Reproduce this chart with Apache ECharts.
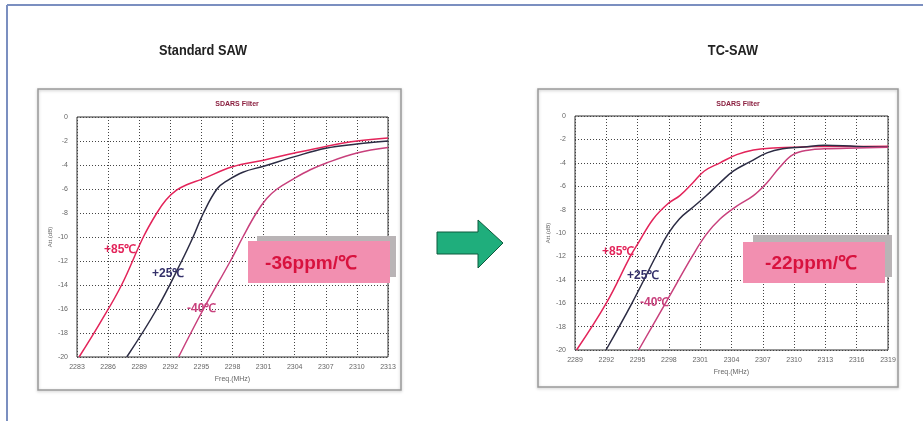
<!DOCTYPE html>
<html><head><meta charset="utf-8">
<script src="https://cdn.jsdelivr.net/npm/echarts@6/dist/echarts.min.js"></script>
<style>html,body{margin:0;padding:0;background:#fff}#c{width:923px;height:421px}</style>
</head><body><div id="c"></div>
<script>
// ---- data ----
const xTicksLeft = [2283, 2286, 2289, 2292, 2295, 2298, 2301, 2304, 2307, 2310, 2313];
const xTicksRight = [2289, 2292, 2295, 2298, 2301, 2304, 2307, 2310, 2313, 2316, 2319];
const yTicks = [0, -2, -4, -6, -8, -10, -12, -14, -16, -18, -20];

const stdHot = [[2283.2,-20],[2285.2,-17.2],[2287.3,-14],[2289.4,-10],[2290.7,-8],[2291.6,-6.9],[2292.6,-6.1],[2293.7,-5.6],[2295,-5.2],[2298,-4.15],[2301,-3.6],[2304,-3.0],[2307,-2.45],[2310,-2.0],[2313,-1.75]];
const stdRoom = [[2287.8,-20],[2290.7,-16],[2293.1,-12],[2294.2,-10],[2295.2,-8],[2296.5,-6],[2297.5,-5.3],[2299,-4.6],[2301,-4.1],[2304,-3.3],[2307,-2.6],[2310,-2.25],[2313,-2.0]];
const stdCold = [[2292.8,-20],[2295.2,-16],[2297.8,-12],[2299,-10],[2300.3,-8],[2301.3,-6.8],[2302.3,-6],[2304,-5.1],[2305.5,-4.4],[2307,-3.85],[2310,-3.0],[2313,-2.55]];

const tcHot = [[2289.15,-20],[2292,-16],[2294.3,-12],[2295.1,-10.8],[2296.5,-8.8],[2297.9,-7.5],[2299.05,-6.8],[2300.3,-5.7],[2301.4,-4.7],[2302.9,-4.0],[2304.5,-3.3],[2306.1,-2.9],[2308,-2.73],[2309.9,-2.68],[2312,-2.6],[2315,-2.6],[2319,-2.58]];
const tcRoom = [[2291.97,-20],[2294.4,-16.1],[2296.8,-11.9],[2297.9,-10.1],[2299,-8.8],[2300.3,-7.8],[2301.6,-6.8],[2302.9,-5.7],[2304.2,-4.7],[2305.8,-3.9],[2307.4,-3.15],[2308.9,-2.8],[2310.9,-2.65],[2312.9,-2.5],[2316,-2.6],[2319,-2.65]];
const tcCold = [[2295.1,-20],[2297.8,-15.8],[2300.3,-11.9],[2301.6,-10.1],[2302.9,-8.8],[2304.5,-7.7],[2306.1,-6.8],[2307.4,-5.7],[2308.6,-4.4],[2309.9,-3.3],[2311.5,-2.9],[2312.9,-2.8],[2316,-2.73],[2319,-2.68]];

const mainTitles = ['Standard SAW', 'TC-SAW'];
const plotTitle = 'SDARS Filter';
const tempLabels = ['+85\u2103', '+25\u2103', '-40\u2103'];
const coeffLabels = ['-36ppm/\u2103', '-22ppm/\u2103'];
const xName = 'Freq.(MHz)';
const yName = 'Att.(dB)';

// ---- chart ----
const C_HOT = '#e3245a', C_ROOM = '#2c2c44', C_COLD = '#c8407c';
const F = 'Liberation Sans, Arial, sans-serif';
const chart = echarts.init(document.getElementById('c'), null, {renderer: 'canvas'});

function xAxis(gi, ticks) {
  return {
    type: 'value', gridIndex: gi, min: ticks[0], max: ticks[ticks.length - 1], interval: ticks[1] - ticks[0],
    name: xName, nameLocation: 'middle', nameGap: 14,
    nameTextStyle: {fontSize: 7, color: '#666', fontFamily: F},
    axisLine: {show: false}, axisTick: {show: false},
    axisLabel: {fontSize: 7, color: '#666', margin: 7, fontFamily: F, formatter: v => String(v)},
    splitLine: {show: true, lineStyle: {type: [1, 2], color: '#444', width: 1}}
  };
}
function yAxis(gi) {
  return {
    type: 'value', gridIndex: gi, min: yTicks[yTicks.length - 1], max: yTicks[0], interval: yTicks[0] - yTicks[1],
    name: yName, nameLocation: 'middle', nameGap: 24, nameRotate: 90,
    nameTextStyle: {fontSize: 6, color: '#666', fontFamily: F},
    axisLine: {show: false}, axisTick: {show: false},
    axisLabel: {fontSize: 7, color: '#666', margin: 9, fontFamily: F},
    splitLine: {show: true, lineStyle: {type: [1, 2], color: '#444', width: 1}}
  };
}
function line(name, data, color, gi) {
  return {name, type: 'line', xAxisIndex: gi, yAxisIndex: gi, data, smooth: 0.4, symbol: 'none',
    lineStyle: {color, width: 1.5}, itemStyle: {color}, z: 3};
}

function tempText(x, y, t, color) {
  return {type: 'text', x, y, z: 10, style: {text: t, fill: color, font: 'bold 12px ' + F, textVerticalAlign: 'middle'}};
}
function mainTitle(x, t) {
  return {type: 'text', x, y: 51, scaleX: 0.85, z: 10, style: {text: t, fill: '#222', font: 'bold 15px ' + F, textAlign: 'center', textVerticalAlign: 'middle'}};
}

const option = {
  backgroundColor: '#fff',
  animation: false,
  title: [
    {text: plotTitle, left: 232, top: 96, textAlign: 'center', textStyle: {fontSize: 7, fontWeight: 'bold', color: '#8b2040', fontFamily: F}},
    {text: plotTitle, left: 733, top: 96, textAlign: 'center', textStyle: {fontSize: 7, fontWeight: 'bold', color: '#8b2040', fontFamily: F}}
  ],
  grid: [
    {left: 77, top: 117, width: 311, height: 240, show: true, borderColor: '#333', borderWidth: 1, backgroundColor: 'transparent'},
    {left: 575, top: 116, width: 313, height: 234, show: true, borderColor: '#333', borderWidth: 1, backgroundColor: 'transparent'}
  ],
  xAxis: [xAxis(0, xTicksLeft), xAxis(1, xTicksRight)],
  yAxis: [yAxis(0), yAxis(1)],
  series: [
    line('+85 std', stdHot, C_HOT, 0),
    line('+25 std', stdRoom, C_ROOM, 0),
    line('-40 std', stdCold, C_COLD, 0),
    line('+85 tc', tcHot, C_HOT, 1),
    line('+25 tc', tcRoom, C_ROOM, 1),
    line('-40 tc', tcCold, C_COLD, 1)
  ],
  graphic: [
    // outer frame lines
    {type: 'line', shape: {x1: 7, y1: 5, x2: 923, y2: 5}, style: {stroke: '#7b8fc0', lineWidth: 2}, z: 0},
    {type: 'line', shape: {x1: 7, y1: 5, x2: 7, y2: 421}, style: {stroke: '#7b8fc0', lineWidth: 2}, z: 0},
    mainTitle(203, mainTitles[0]),
    mainTitle(733, mainTitles[1]),
    // panel boxes
    {type: 'rect', shape: {x: 38, y: 89, width: 363, height: 301}, style: {fill: 'none', stroke: '#9a9a9a', lineWidth: 1.5, shadowBlur: 3, shadowColor: 'rgba(0,0,0,0.25)', shadowOffsetY: 1}, z: 0},
    {type: 'rect', shape: {x: 538, y: 89, width: 360, height: 298}, style: {fill: 'none', stroke: '#9a9a9a', lineWidth: 1.5, shadowBlur: 3, shadowColor: 'rgba(0,0,0,0.25)', shadowOffsetY: 1}, z: 0},
    // coefficient boxes
    {type: 'rect', shape: {x: 257, y: 236, width: 139, height: 41}, style: {fill: '#b9b4b6'}, z: 8},
    {type: 'rect', shape: {x: 248, y: 241, width: 142, height: 42}, style: {fill: '#f28fb0'}, z: 9},
    {type: 'text', x: 311, y: 264, z: 10, style: {text: coeffLabels[0], fill: '#d8123e', font: 'bold 19px ' + F, textAlign: 'center', textVerticalAlign: 'middle'}},
    {type: 'rect', shape: {x: 753, y: 235, width: 139, height: 42}, style: {fill: '#b9b4b6'}, z: 8},
    {type: 'rect', shape: {x: 743, y: 242, width: 142, height: 41}, style: {fill: '#f28fb0'}, z: 9},
    {type: 'text', x: 811, y: 264, z: 10, style: {text: coeffLabels[1], fill: '#d8123e', font: 'bold 19px ' + F, textAlign: 'center', textVerticalAlign: 'middle'}},
    // temperature labels
    tempText(104, 250, tempLabels[0], C_HOT),
    tempText(152, 274, tempLabels[1], '#34306a'),
    tempText(187, 309, tempLabels[2], C_COLD),
    tempText(602, 252, tempLabels[0], C_HOT),
    tempText(627, 276, tempLabels[1], '#34306a'),
    tempText(640, 303, tempLabels[2], C_COLD),
    // arrow
    {type: 'polygon', z: 10, shape: {points: [[437,232],[478,232],[478,220],[503,243],[478,268],[478,254],[437,254]]},
      style: {fill: '#1fae7c', stroke: '#0d5a3c', lineWidth: 1}}
  ]
};
chart.setOption(option);
</script></body></html>
